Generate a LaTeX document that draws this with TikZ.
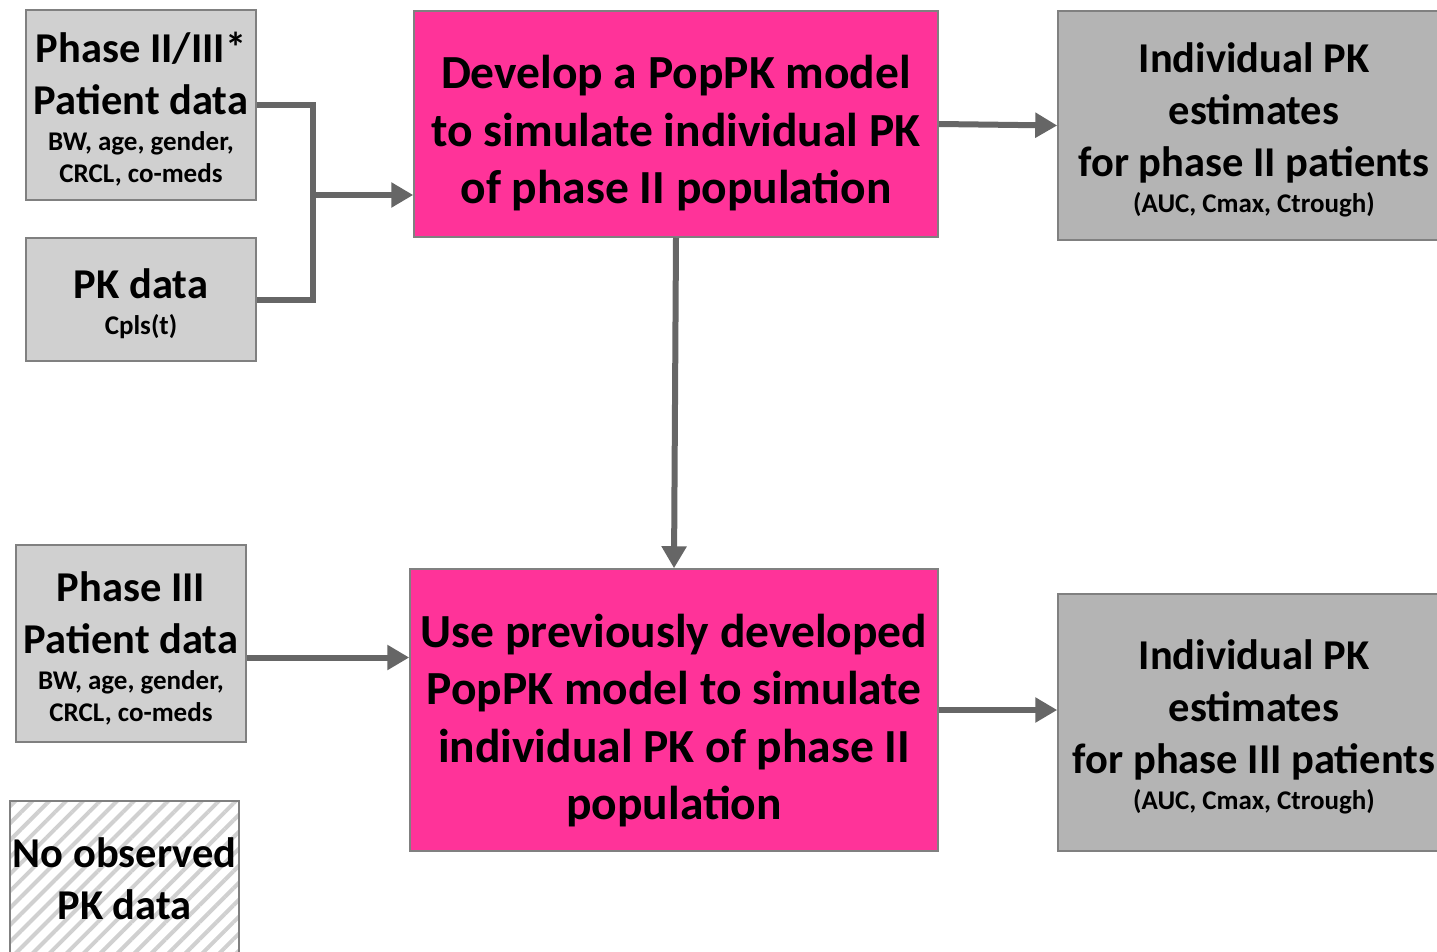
\documentclass[tikz,border=0pt]{standalone}
\usepackage{fontspec}
\setmainfont{Carlito}
\usetikzlibrary{arrows.meta,patterns.meta}
\definecolor{hotpink}{HTML}{FF3399}
\definecolor{boxgray}{HTML}{D0D0D0}
\definecolor{outgray}{HTML}{B4B4B4}
\definecolor{edgegray}{HTML}{808080}
\definecolor{arrowgray}{HTML}{666666}
\newcommand{\bigtxt}{\fontsize{42.5}{52}\selectfont}
\newcommand{\hugetxt}{\fontsize{47.5}{57.5}\selectfont}
\newcommand{\smalltxt}{\fontsize{27}{32}\selectfont}
\newcommand{\topstrut}[1]{\rule{0pt}{#1}}
\tikzset{
  databox/.style={draw=edgegray, line width=1.5pt, fill=boxgray, inner sep=0pt,
    align=center, font=\bfseries\bigtxt},
  modelbox/.style={databox, fill=hotpink, font=\bfseries\hugetxt},
  outbox/.style={databox, fill=outgray},
  arr/.style={draw=arrowgray, line width=6pt, -{Triangle[length=22pt,width=24pt]}},
  link/.style={draw=arrowgray, line width=6pt}
}
\begin{document}
\begin{tikzpicture}[x=1pt,y=-1pt]
\useasboundingbox (0,0) rectangle (1437,952);
% input data
\node[databox, minimum width=230pt, minimum height=190pt] (p23) at (141,105)
  {\topstrut{38pt}Phase II/III*\\Patient data\\[-16pt]{\smalltxt BW, age, gender,}\\[-20pt]{\smalltxt CRCL, co-meds}};
\node[databox, minimum width=230pt, minimum height=123pt] (pkd) at (141,299.5)
  {\topstrut{38pt}PK data\\[-16pt]{\smalltxt Cpls(t)}};
\node[databox, minimum width=230pt, minimum height=197pt] (p3) at (131,643.5)
  {\topstrut{39pt}Phase III\\Patient data\\[-16pt]{\smalltxt BW, age, gender,}\\[-20pt]{\smalltxt CRCL, co-meds}};
\node[databox, fill=white, pattern={Lines[angle=45,distance=12pt,line width=4pt]},
  pattern color=boxgray, minimum width=229pt, minimum height=156pt] (nopk) at (124.5,879)
  {No observed\\PK data};
% models
\node[modelbox, minimum width=524pt, minimum height=226pt] (dev) at (676,124)
  {\topstrut{52pt}Develop a PopPK model\\to simulate individual PK\\of phase II population};
\node[modelbox, minimum width=528pt, minimum height=282pt] (use) at (674,710)
  {\topstrut{54pt}Use previously developed\\PopPK model to simulate\\individual PK of phase II\\population};
% outputs
\node[outbox, minimum width=392pt, minimum height=229pt] (est2) at (1254,125.5)
  {\topstrut{38pt}Individual PK\\estimates\\for phase II patients\\[-16pt]{\smalltxt(AUC, Cmax, Ctrough)}};
\node[outbox, minimum width=392pt, minimum height=257pt] (est3) at (1254,722.5)
  {\topstrut{38pt}Individual PK\\estimates\\for phase III patients\\[-16pt]{\smalltxt(AUC, Cmax, Ctrough)}};
% connectors
\coordinate (brk) at (313,195);
\coordinate (p3out) at ([yshift=-14pt]p3.east);
\draw[link] (p23.east) -| (brk) |- (pkd.east);
\draw[arr] (brk) -- (dev.west |- brk);
\draw[arr] (dev.east) -- (est2.west);
\draw[arr] (dev.south) -- (use.north);
\draw[arr] (p3out) -- (use.west |- p3out);
\draw[arr] (use.east) -- (est3.west |- use.east);
\end{tikzpicture}
\end{document}
